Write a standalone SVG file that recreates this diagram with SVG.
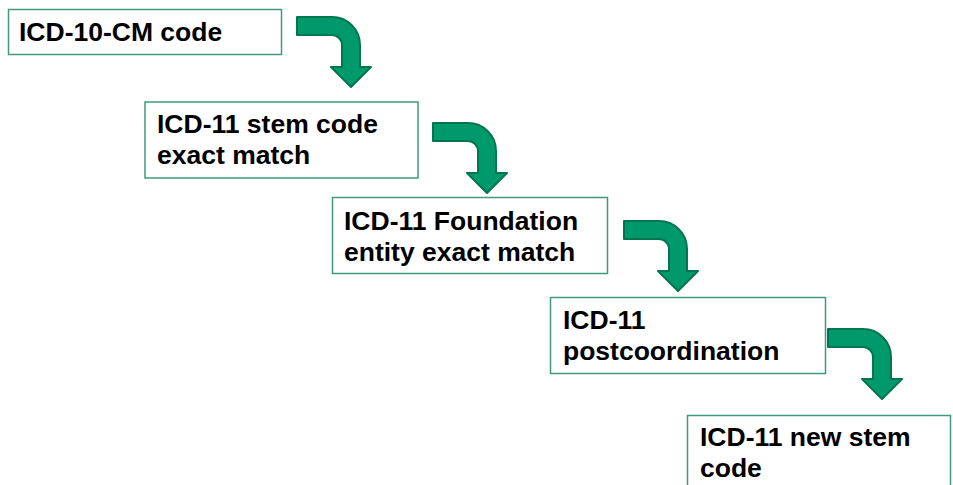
<svg xmlns="http://www.w3.org/2000/svg" width="953" height="485" viewBox="0 0 953 485">
<defs>
<style>
.box{fill:#fff;stroke:#3d9a7c;stroke-width:1.5}
.t{font-family:"Liberation Sans",Arial,sans-serif;font-weight:bold;font-size:26.5px;fill:#000}
.arr{fill:#00996b;stroke:#007650;stroke-width:2;stroke-linejoin:round}
</style>
<path id="bent" d="M0,0 H35 A28,28 0 0 1 63,28 V50 H74 L54,70 L34,50 H45 V28 A10,10 0 0 0 35,18 H0 Z"/>
</defs>
<rect width="953" height="485" fill="#fff"/>
<g id="connectors">
<use href="#bent" class="arr" x="297" y="17"/>
<use href="#bent" class="arr" x="433" y="123"/>
<use href="#bent" class="arr" x="624" y="221"/>
<use href="#bent" class="arr" x="828" y="329"/>
</g>
<g id="n1">
<rect class="box" x="8.5" y="9.5" width="273" height="45"/>
<text class="t" x="19" y="41">ICD-10-CM code</text>
</g>
<g id="n2">
<rect class="box" x="145" y="102" width="273" height="76"/>
<text class="t" x="157" y="133">ICD-11 stem code</text>
<text class="t" x="157" y="164">exact match</text>
</g>
<g id="n3">
<rect class="box" x="332.5" y="197.5" width="275" height="76"/>
<text class="t" x="344" y="230">ICD-11 Foundation</text>
<text class="t" x="344" y="261">entity exact match</text>
</g>
<g id="n4">
<rect class="box" x="550.5" y="297.5" width="275" height="76"/>
<text class="t" x="563" y="329">ICD-11</text>
<text class="t" x="563" y="360">postcoordination</text>
</g>
<g id="n5">
<rect class="box" x="687.5" y="415.5" width="263" height="90"/>
<text class="t" x="700" y="446">ICD-11 new stem</text>
<text class="t" x="700" y="477">code</text>
</g>
</svg>
